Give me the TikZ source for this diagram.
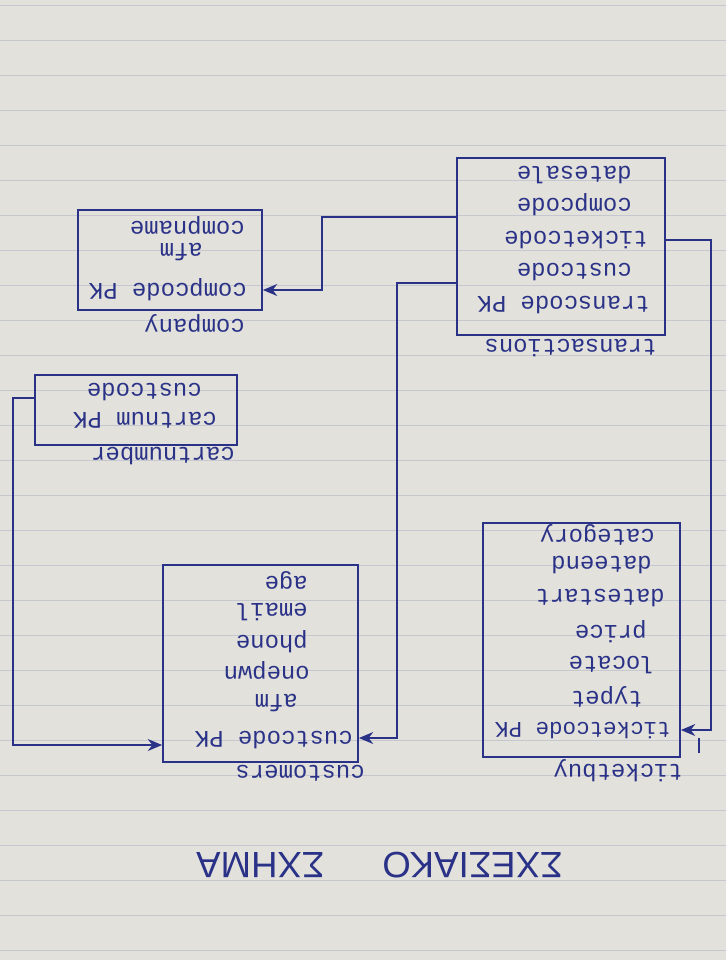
\documentclass[tikz,border=0pt]{standalone}
\usepackage{fontspec}
\newfontfamily\handfont{Liberation Mono}
\newfontfamily\titlefont{Liberation Sans}
\usetikzlibrary{arrows.meta,calc}
\definecolor{ink}{RGB}{42,50,135}
\definecolor{paper}{RGB}{227,225,220}
\definecolor{rule}{RGB}{198,200,207}
\begin{document}
\begin{tikzpicture}[x=0.025cm, y=-0.025cm,
	tablebox/.style={draw=ink, line width=1.2pt, inner sep=0pt},
	fieldtext/.style={rotate=180, anchor=west, inner sep=0pt, text=ink, font=\handfont\fontsize{17}{20}\selectfont},
	heading/.style={rotate=180, anchor=west, inner sep=0pt, text=ink, font=\titlefont\fontsize{26}{30}\selectfont},
	linkarrow/.style={draw=ink, line width=1.2pt, -{Stealth[length=3.6mm, width=3mm]}}]
		% paper with ruled lines
		\fill[paper] (0,0) rectangle (726,960);
		\useasboundingbox (0,0) rectangle (726,960);
		\foreach \k in {0,...,27}{
		  \draw[rule, line width=0.6pt] (0,{5+35*\k}) -- (726,{5+35*\k});
		}
		% tables
		\node[tablebox, minimum width=5.2cm, minimum height=4.425cm] (trans) at (561,246.5) {};
		\node[tablebox, minimum width=4.6cm, minimum height=2.5cm] (company) at (170,260) {};
		\node[tablebox, minimum width=5.05cm, minimum height=1.75cm] (cart) at (136,410) {};
		\node[tablebox, minimum width=4.875cm, minimum height=4.925cm] (cust) at (260.5,663.5) {};
		\node[tablebox, minimum width=4.925cm, minimum height=5.85cm] (ticket) at (581.5,640) {};
		% transactions
		\node[fieldtext] (tsale) at (632,175) {datesale};
		\node[fieldtext] (tcomp) at (632,205) {compcode};
		\node[fieldtext] (tticket) at (648,240) {ticketcode};
		\node[fieldtext] (tcust) at (632,272) {custcode};
		\node[fieldtext] (tcode) at (650,305) {transcode PK};
		\node[fieldtext] (ttitle) at (657,348) {transactions};
		% company
		\node[fieldtext] (cname) at (245,225) {compname};
		\node[fieldtext] (cafm) at (203,252) {afm};
		\node[fieldtext] (ccode) at (247,290) {compcode PK};
		\node[fieldtext] (ctitle) at (245,323) {company};
		% cartnumber
		\node[fieldtext] (kcust) at (202,392) {custcode};
		\node[fieldtext] (kcode) at (217,420) {cartnum PK};
		\node[fieldtext] (ktitle) at (235,456) {cartnumber};
		% customers
		\node[fieldtext] (uage) at (308,580) {age};
		\node[fieldtext] (umail) at (308,612) {email};
		\node[fieldtext] (uphone) at (308,642) {phone};
		\node[fieldtext] (uname) at (310,670) {onepwn};
		\node[fieldtext] (uafm) at (298,703) {afm};
		\node[fieldtext] (ucode) at (353,740) {custcode PK};
		\node[fieldtext] (utitle) at (365,773) {customers};
		% ticketbuy
		\node[fieldtext] (bcat) at (655,535) {category};
		\node[fieldtext] (bend) at (652,565) {dateend};
		\node[fieldtext] (bstart) at (665,598) {datestart};
		\node[fieldtext] (bprice) at (647,632) {price};
		\node[fieldtext] (bloc) at (655,665) {locate};
		\node[fieldtext] (btype) at (643,697) {typet};
		\node[fieldtext, font=\handfont\fontsize{16}{19}\selectfont] (bcode) at (671,730) {ticketcode PK};
		\node[fieldtext] (btitle) at (683,771) {ticketbuy};
		% title
		\node[heading] (title) at (563,865) {ΣΧΕΣΙΑΚΟ\hspace{1.45cm}ΣΧΗΜΑ};
		% references
		\draw[linkarrow] ($(trans.west)+(0,-29.5)$) -- ++(-134,0) |- ($(company.east)+(0,30)$);
		\draw[linkarrow] ($(trans.west)+(0,36.5)$) -- ++(-59,0) |- ($(cust.east)+(0,74.5)$);
		\draw[linkarrow] ($(trans.east)+(0,-6.5)$) -- ++(45,0) |- ($(ticket.east)+(0,90)$);
		\draw[linkarrow] ($(cart.west)+(0,-12)$) -- ++(-21,0) |- ($(cust.west)+(0,81.5)$);
		\draw[ink, line width=1pt] (699,738) -- (699,753);
\end{tikzpicture}
\end{document}
